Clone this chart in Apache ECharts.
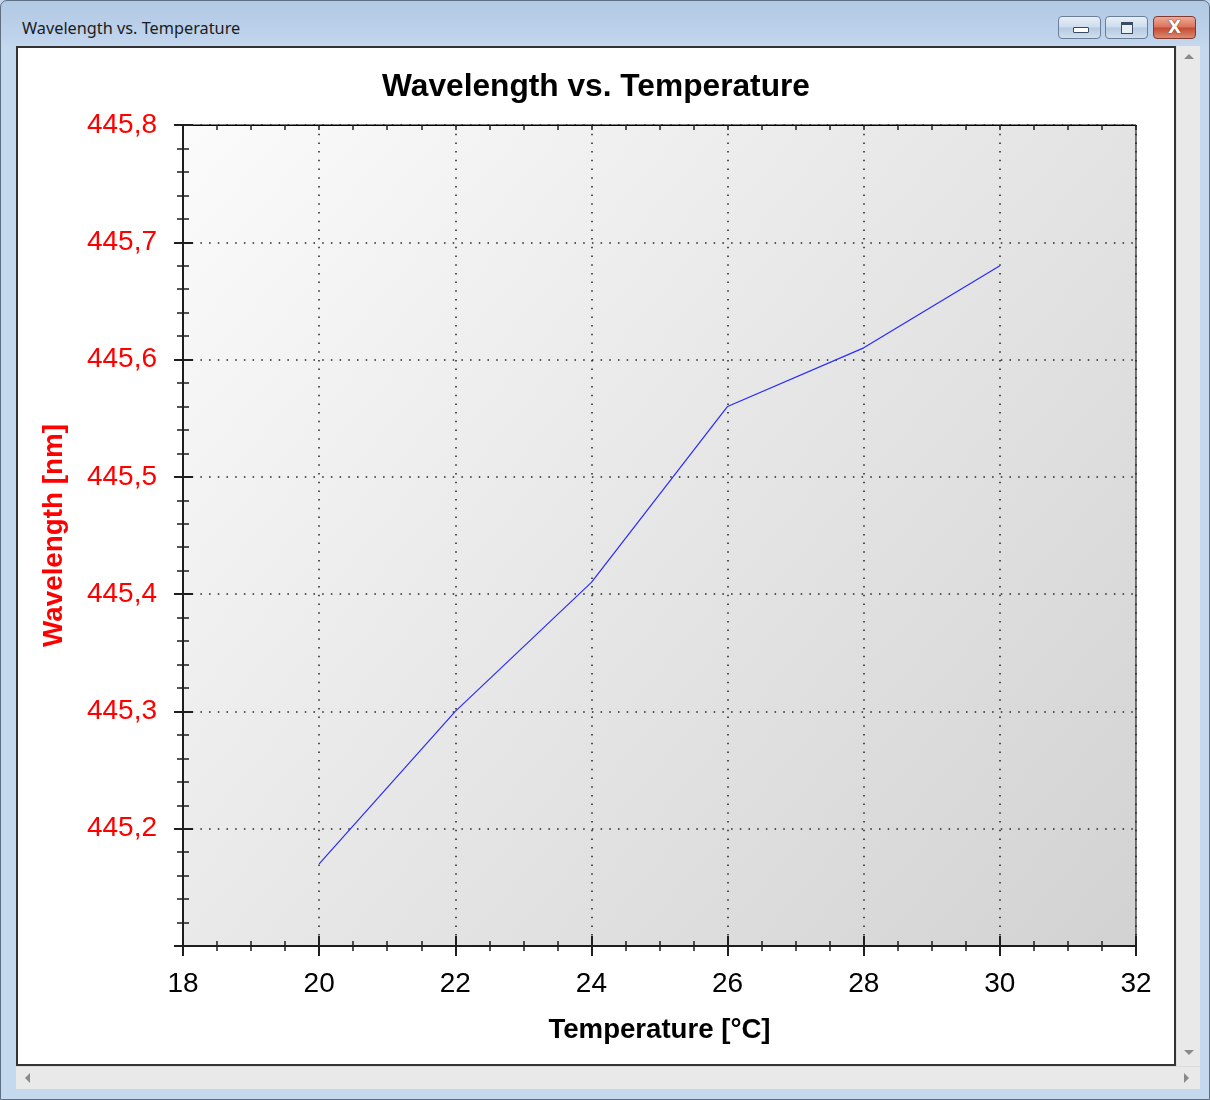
<!DOCTYPE html>
<html>
<head>
<meta charset="utf-8">
<script src="https://cdn.jsdelivr.net/npm/echarts@6/dist/echarts.min.js"></script>
<style>
  html, body { margin:0; padding:0; width:1210px; height:1100px; overflow:hidden; background:#c2d6ed; }
  #frame { position:absolute; left:0; top:0; width:1210px; height:1100px; box-sizing:border-box;
           border:1px solid #5f6f82; border-radius:7px 7px 0 0;
           background:linear-gradient(to bottom,#b2c9e4 0px,#bcd1ea 30px,#c4d8ee 46px,#c4d8ee 100%); }
  #wtitle { position:absolute; left:22px; top:17px; font-family:"Noto Sans",sans-serif; font-size:16.3px; color:#1c1c1c; line-height:22px; }
  .btn { position:absolute; top:16px; width:43px; height:23px; box-sizing:border-box; border:1px solid #6c7f98; border-radius:4px;
         background:linear-gradient(to bottom,#e6eef8 0%,#cddcee 48%,#b5c9e0 52%,#cfdff0 100%); }
  .btn.close { border-color:#823a30; background:linear-gradient(to bottom,#eeaa98 0%,#d9735b 48%,#c54a30 52%,#d98b72 100%); }
  .xg { position:absolute; left:0; top:0; width:41px; height:21px; text-align:center; line-height:21px;
        font-family:"DejaVu Sans",sans-serif; font-weight:bold; font-size:17px; color:#fff;
        text-shadow:0 0 1px #6a2a20, 0 0 1px #6a2a20; }
  #client { position:absolute; left:16px; top:46px; width:1160px; height:1020px; box-sizing:border-box; border:2px solid #333; background:#fff; }
  #vscroll { position:absolute; left:1176px; top:46px; width:24px; height:1020px; background:#e9e9e9; border-left:1px solid #dcdcdc; box-sizing:border-box; }
  #hscroll { position:absolute; left:16px; top:1066px; width:1184px; height:23px; background:#e9e9e9; border-top:1px solid #dcdcdc; box-sizing:border-box; }
  .tri { position:absolute; width:0; height:0; }
  #chart { position:absolute; left:18px; top:48px; width:1156px; height:1016px; }
</style>
</head>
<body>
<div id="frame"></div>
<div id="wtitle">Wavelength vs. Temperature</div>
<div class="btn" style="left:1058px;"><div style="position:absolute;left:14px;top:10px;width:14px;height:4px;border:1px solid #3a4a60;background:#fff;border-radius:1px;"></div></div>
<div class="btn" style="left:1105px;"><div style="position:absolute;left:15px;top:5px;width:10px;height:8px;border:1px solid #3a4a60;border-top-width:3px;background:#e8eef6;"></div></div>
<div class="btn close" style="left:1153px;"><div class="xg">X</div></div>
<div id="client"></div>
<div id="vscroll">
  <div class="tri" style="left:7px;top:8px;border-left:5px solid transparent;border-right:5px solid transparent;border-bottom:5px solid #8a8a8a;"></div>
  <div class="tri" style="left:7px;top:1004px;border-left:5px solid transparent;border-right:5px solid transparent;border-top:5px solid #8a8a8a;"></div>
</div>
<div id="hscroll">
  <div class="tri" style="left:9px;top:6px;border-top:5px solid transparent;border-bottom:5px solid transparent;border-right:5px solid #8a8a8a;"></div>
  <div class="tri" style="left:1168px;top:6px;border-top:5px solid transparent;border-bottom:5px solid transparent;border-left:5px solid #8a8a8a;"></div>
</div>
<div id="chart"></div>
<script>
// ---- data ----
const chartTitle = 'Wavelength vs. Temperature';
const xAxisName = 'Temperature [°C]';
const yAxisName = 'Wavelength [nm]';
const temperatures = [20, 22, 24, 26, 28, 30];
const wavelengths = [445.17, 445.30, 445.41, 445.56, 445.61, 445.68];
const xRange = [18, 32];
const xStep = 2;
const yRange = [445.1, 445.8];
const yStep = 0.1;

const FONT = '"Liberation Sans", Arial, sans-serif';
const AX = '#1e1e1e';

const chart = echarts.init(document.getElementById('chart'), null, { renderer: 'canvas' });
const yFmt = v => (Math.abs(v - yRange[0]) < 1e-6) ? '' : v.toFixed(1).replace('.', ',');

chart.setOption({
  animation: false,
  backgroundColor: 'transparent',
  title: {
    text: chartTitle, left: 'center', top: 18,
    textStyle: { fontFamily: FONT, fontSize: 31.7, fontWeight: 'bold', color: '#000' }
  },
  grid: {
    left: 165, top: 77, right: 38, bottom: 118, show: true,
    borderColor: '#000', borderWidth: 1,
    backgroundColor: { type: 'linear', x: 0, y: 0, x2: 1, y2: 1,
      colorStops: [{ offset: 0, color: '#fbfbfb' }, { offset: 0.5, color: '#e6e6e6' }, { offset: 1, color: '#d2d2d2' }] }
  },
  xAxis: [
    {
      type: 'value', position: 'bottom', min: xRange[0], max: xRange[1], interval: xStep,
      name: xAxisName, nameLocation: 'middle', nameGap: 70,
      nameTextStyle: { fontFamily: FONT, fontSize: 27.6, fontWeight: 'bold', color: '#000' },
      axisLine: { show: true, lineStyle: { color: AX, width: 2 } },
      axisTick: { show: true, length: 10, lineStyle: { color: AX, width: 2 } },
      minorTick: { show: true, splitNumber: 4, length: 5, lineStyle: { color: AX, width: 1.5 } },
      axisLabel: { fontFamily: FONT, fontSize: 28, color: '#000', margin: 24 },
      splitLine: { show: true, lineStyle: { color: '#222', width: 1.5, type: [1.5, 7.2] } }
    },
    {
      type: 'value', position: 'bottom', min: xRange[0], max: xRange[1], interval: xStep,
      axisLine: { show: false },
      axisTick: { show: true, inside: true, length: 10, lineStyle: { color: AX, width: 2 } },
      minorTick: { show: true, splitNumber: 4, length: 5, lineStyle: { color: AX, width: 1.5 } },
      axisLabel: { show: false }, splitLine: { show: false }
    },
    {
      type: 'value', position: 'top', min: xRange[0], max: xRange[1], interval: xStep / 4,
      axisLine: { show: true, lineStyle: { color: '#000', width: 1.2 } },
      axisTick: { show: true, inside: true, length: 5, lineStyle: { color: AX, width: 1.5 } },
      axisLabel: { show: false }, splitLine: { show: false }
    }
  ],
  yAxis: [
    {
      type: 'value', position: 'left', min: yRange[0], max: yRange[1], interval: yStep,
      name: yAxisName, nameLocation: 'middle', nameGap: 115,
      nameTextStyle: { fontFamily: FONT, fontSize: 27.8, fontWeight: 'bold', color: '#ff0000' },
      axisLine: { show: true, lineStyle: { color: AX, width: 2 } },
      axisTick: { show: true, length: 9, lineStyle: { color: AX, width: 2 } },
      minorTick: { show: true, splitNumber: 5, length: 6, lineStyle: { color: AX, width: 1.5 } },
      axisLabel: { fontFamily: FONT, fontSize: 28, color: '#ff0000', margin: 26, formatter: yFmt },
      splitLine: { show: true, lineStyle: { color: '#222', width: 1.5, type: [1.5, 7.2] } }
    },
    {
      type: 'value', position: 'left', min: yRange[0], max: yRange[1], interval: yStep,
      axisLine: { show: false },
      axisTick: { show: true, inside: true, length: 10, lineStyle: { color: AX, width: 2 } },
      minorTick: { show: true, splitNumber: 5, length: 6, lineStyle: { color: AX, width: 1.5 } },
      axisLabel: { show: false }, splitLine: { show: false }
    }
  ],
  series: [{
    type: 'line', xAxisIndex: 0, yAxisIndex: 0,
    data: temperatures.map((t, i) => [t, wavelengths[i]]),
    showSymbol: false, symbol: 'none', smooth: false,
    lineStyle: { color: '#2a2aff', width: 1.2 },
    z: 5
  }]
});
</script>
</body>
</html>
